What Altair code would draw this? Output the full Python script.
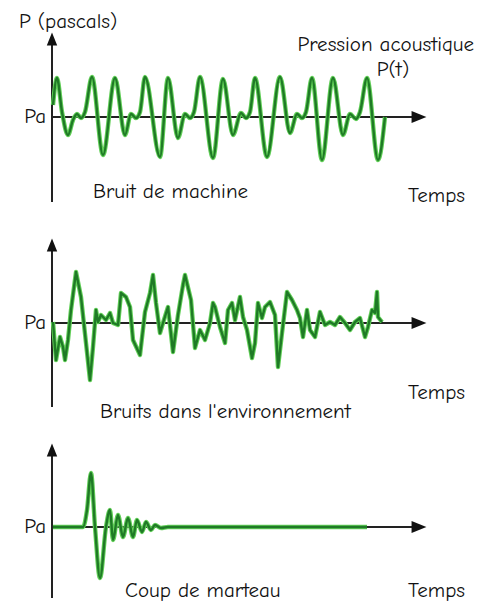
import altair as alt
import pandas as pd

# ---------------- data (time in arbitrary units, pressure relative to Pa) ----------------
machine_t = [1, 5, 10, 16, 21, 25, 29, 33, 40, 51, 63, 73, 79, 84, 88, 93, 108, 116, 126,
             133, 138, 142, 148, 161, 171, 181, 189, 194, 198, 203, 215, 228, 238, 245, 250,
             254, 260, 270, 281, 291, 298, 304, 308, 315, 326, 333]
machine_p = [1.2, 3.9, 0.5, -1.8, -0.3, 0.3, -0.1, 0.5, 4.0, -3.8, 3.9, -1.8, 0.3, -0.1,
             0.5, 4.0, -4.0, 3.9, -2.1, 0.3, -0.1, 0.5, 4.0, -4.1, 3.8, -1.8, 0.4, -0.1, 0.5,
             3.9, -4.0, 4.0, -1.6, 0.3, -0.1, 0.5, 3.9, -4.3, 3.9, -1.8, 0.3, -0.2, 0.5, 3.9,
             -4.3, 0.0]

env_t = [1, 4, 8, 11, 13, 16, 19, 24, 29, 34, 38, 41, 44, 46, 49, 54, 58, 61, 66, 69, 74,
         78, 81, 88, 93, 98, 101, 104, 108, 111, 116, 121, 126, 131, 133, 139, 143, 148, 153,
         158, 161, 163, 168, 173, 176, 180, 183, 188, 191, 195, 200, 203, 206, 210, 213, 218,
         223, 226, 230, 235, 240, 245, 248, 251, 255, 258, 263, 268, 273, 278, 283, 288, 293,
         298, 303, 308, 313, 316, 320, 323, 325, 326, 330]
env_p = [0.1, -3.7, -1.4, -2.4, -3.7, -1.7, 1.3, 5.1, 2.6, -2.0, -5.7, -2.4, 1.3, 0.1, 0.8,
         0.3, 1.0, 0.0, -0.2, 3.0, 2.6, 1.6, -1.7, -3.2, 1.1, 3.0, 4.8, 2.0, -1.0, 0.0, 1.6,
         -2.9, 0.8, 3.8, 4.8, 2.3, -2.5, -0.7, -1.7, 0.0, 2.0, 1.6, -0.4, -2.0, 1.3, 2.0, 0.3,
         2.6, 0.6, -0.7, -3.5, -2.0, 2.0, 0.5, 1.6, 2.1, 0.8, -4.4, -1.0, 3.1, 2.3, 1.3, 0.5,
         -1.4, 1.3, -0.7, -1.4, 1.1, -0.2, 0.1, -0.2, 0.6, 0.0, -0.7, 0.1, 0.5, -1.4, -0.4,
         1.3, 1.0, 3.1, 0.6, 0.1]

hammer_t = [1, 31, 35, 39, 43, 48, 54, 58, 61, 66, 71, 76, 81, 85, 90, 94, 99, 103, 109,
            116, 315]
hammer_p = [0.0, 0.0, 1.7, 5.4, 0.0, -5.1, 0.0, 1.7, -1.3, 1.2, -1.0, 0.9, -1.0, 0.7, -0.5,
            0.5, -0.3, 0.2, -0.1, 0.0, 0.0]

titles = ["Bruit de machine", "Bruits dans l'environnement", "Coup de marteau"]

# ---------------- layout ----------------
W = 466
T_DOMAIN = [-44, 422]
AXIS_END = 367
FONT = "Comic Sans MS, Comic Neue, DejaVu Sans"
FS = 21
ARROW_RIGHT = "M-1,-0.8L1,0L-1,0.8Z"
ARROW_UP = "M-0.8,1L0,-1L0.8,1Z"


def panel(t, p, interp, y_domain, height, axis_top, axis_bottom, labels):
    xs = alt.Scale(domain=T_DOMAIN, nice=False, zero=False)
    ys = alt.Scale(domain=y_domain, nice=False, zero=False)

    def X(f):
        return alt.X(f, type="quantitative", scale=xs, axis=None)

    def Y(f):
        return alt.Y(f, type="quantitative", scale=ys, axis=None)

    df = pd.DataFrame({"t": t, "p": p})
    glow = alt.Chart(df).mark_line(color="#62cf58", strokeWidth=4.4, interpolate=interp,
                                   strokeJoin="round").encode(x=X("t"), y=Y("p"))
    core = alt.Chart(df).mark_line(color="#1f7a26", strokeWidth=2.4, interpolate=interp,
                                   strokeJoin="round").encode(x=X("t"), y=Y("p"))

    ax = pd.DataFrame({"t0": [0], "t1": [AXIS_END], "pz": [0],
                       "pb": [axis_bottom], "pt": [axis_top]})
    hrule = alt.Chart(ax).mark_rule(color="#222222", strokeWidth=2).encode(
        x=X("t0"), x2="t1", y=Y("pz"))
    vrule = alt.Chart(ax).mark_rule(color="#222222", strokeWidth=2).encode(
        x=X("t0"), y=Y("pb"), y2="pt")
    head_r = alt.Chart(ax).mark_point(shape=ARROW_RIGHT, filled=True, size=220,
                                      color="#111111", opacity=1).encode(
        x=X("t1"), y=Y("pz"))
    head_u = alt.Chart(ax).mark_point(shape=ARROW_UP, filled=True, size=170,
                                      color="#111111", opacity=1).encode(
        x=X("t0"), y=Y("pt"))

    layers = [hrule, vrule, head_r, head_u, glow, core]
    for text, lt, lp, align in labels:
        ldf = pd.DataFrame({"label": [text], "t": [lt], "p": [lp]})
        layers.append(
            alt.Chart(ldf).mark_text(align=align, baseline="middle", font=FONT,
                                     fontSize=FS, color="#111111").encode(
                x=X("t"), y=Y("p"), text="label:N"))
    return alt.layer(*layers).properties(width=W, height=height)


p1 = panel(machine_t, machine_p, "monotone", [-9.9, 10.9], 208, 7.8, -8.5, [
    ("P (pascals)", -33, 9.5, "left"),
    ("Pression acoustique", 422, 7.2, "right"),
    ("P(t)", 341, 4.7, "center"),
    ("Pa", -6, 0, "right"),
    (titles[0], 41, -7.5, "left"),
    ("Temps", 356, -7.9, "left"),
])

p2 = panel(env_t, env_p, "linear", [-10.1, 10.7], 208, 7.8, -8.4, [
    ("Pa", -6, 0, "right"),
    ("Temps", 356, -7.0, "left"),
    (titles[1], 48, -8.9, "left"),
])

p3 = panel(hammer_t, hammer_p, "monotone", [-7.1, 10.3], 174, 7.7, -7.1, [
    ("Pa", -6, 0, "right"),
    (titles[2], 73, -6.4, "left"),
    ("Temps", 356, -6.4, "left"),
])

chart = alt.vconcat(p1, p2, p3, spacing=0).properties(
    padding=0, background="white"
).configure_view(stroke=None)

chart.save("out.html", embed_options={"renderer": "svg", "actions": False})
